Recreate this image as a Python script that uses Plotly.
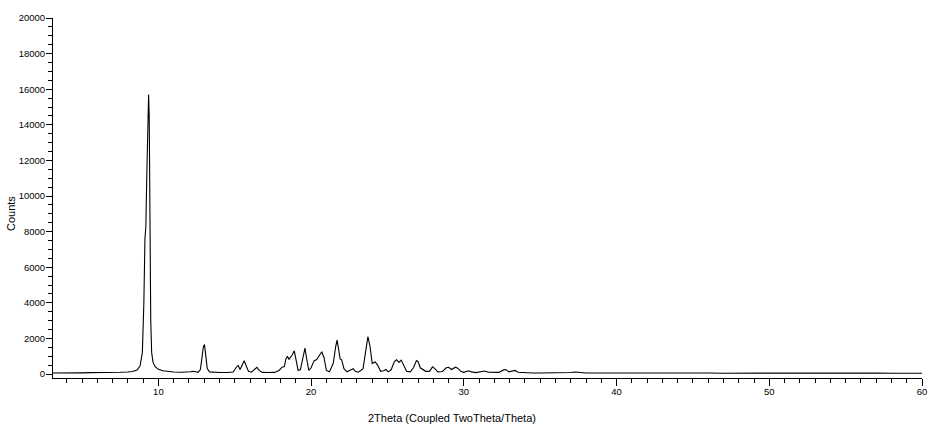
import plotly.graph_objects as go

# 2Theta (degrees) and Counts
two_theta = [
    3.1, 3.5, 4.0, 4.5, 5.0, 5.5, 6.0, 6.5, 7.0, 7.5, 8.0, 8.3, 8.6, 8.8, 8.95,
    9.05, 9.12, 9.18, 9.25, 9.32, 9.36, 9.40, 9.45, 9.50, 9.56, 9.65, 9.8, 10.0,
    10.3, 10.7, 11.0, 11.5, 11.9, 12.1, 12.3, 12.45, 12.6, 12.75, 12.85, 12.95,
    13.02, 13.1, 13.2, 13.35, 13.6, 14.0, 14.5, 14.9, 15.1, 15.22, 15.35, 15.5,
    15.62, 15.75, 15.9, 16.1, 16.3, 16.45, 16.6, 16.8, 17.2, 17.6, 17.9, 18.1,
    18.25, 18.35, 18.45, 18.55, 18.65, 18.75, 18.9, 19.0, 19.15, 19.3, 19.5,
    19.6, 19.7, 19.85, 20.0, 20.2, 20.35, 20.5, 20.7, 20.85, 21.0, 21.2, 21.45,
    21.6, 21.7, 21.8, 21.9, 22.0, 22.15, 22.35, 22.6, 22.75, 22.9, 23.1, 23.4,
    23.6, 23.72, 23.85, 24.0, 24.2, 24.35, 24.55, 24.75, 24.9, 25.05, 25.25,
    25.45, 25.6, 25.75, 25.9, 26.05, 26.25, 26.5, 26.7, 26.9, 27.0, 27.15, 27.3,
    27.5, 27.75, 27.95, 28.1, 28.3, 28.6, 28.85, 29.0, 29.2, 29.45, 29.6, 29.8,
    30.0, 30.3, 30.5, 30.8, 31.1, 31.35, 31.6, 32.0, 32.3, 32.6, 32.75, 32.95,
    33.2, 33.35, 33.55, 33.9, 34.5, 35.0, 35.5, 36.0, 36.5, 37.0, 37.3, 37.6,
    38.0, 38.5, 39.0, 39.2, 39.5, 40.0, 41.0, 42.0, 43.0, 44.0, 45.0, 46.0,
    47.0, 48.0, 49.0, 50.0, 51.0, 52.0, 53.0, 54.0, 55.0, 56.0, 57.0, 58.0,
    59.0, 60.0,
]
counts = [
    60, 55, 70, 60, 65, 75, 70, 80, 85, 95, 110, 140, 220, 450, 1200,
    4000, 7600, 8300, 11500, 15200, 15700, 14500, 8000, 3000, 1200, 650, 400, 260,
    180, 130, 110, 95, 100, 130, 150, 100, 90, 250, 900, 1550,
    1650, 1000, 300, 120, 90, 80, 80, 110, 380, 480, 250, 550,
    750, 450, 150, 100, 250, 380, 200, 90, 80, 90, 200, 380,
    420, 850, 1000, 820, 950, 1050, 1300, 900, 200, 250, 1200,
    1450, 900, 200, 350, 750, 800, 1000, 1250, 900, 200, 120, 600,
    1500, 1900, 1400, 850, 800, 300, 120, 250, 300, 150, 100, 300,
    1500, 2100, 1600, 600, 680, 500, 150, 180, 250, 120, 250,
    700, 800, 650, 780, 500, 150, 120, 350, 750, 700, 350, 280,
    150, 150, 400, 300, 120, 140, 350, 380, 250, 380, 330, 150,
    90, 180, 120, 80, 110, 170, 100, 80, 90, 230, 250, 120,
    150, 200, 100, 70, 60, 60, 55, 70, 60, 80, 110, 80,
    60, 55, 70, 90, 60, 55, 60, 50, 55, 45, 50, 55,
    45, 50, 45, 50, 40, 45, 50, 45, 40, 45, 50, 40,
    45, 40,
]

x_tickvals = [10, 20, 30, 40, 50, 60]
x_ticktext = ["10", "20", "30", "40", "50", "60"]
y_tickvals = [0, 2000, 4000, 6000, 8000, 10000, 12000, 14000, 16000, 18000, 20000]
y_ticktext = ["0", "2000", "4000", "6000", "8000", "10000", "12000", "14000",
              "16000", "18000", "20000"]

ML, MR, MT, MB = 53, 8, 18, 50
W, H = 930, 428
pw = W - ML - MR
ph = H - MT - MB

fig = go.Figure()
fig.add_trace(go.Scatter(
    x=two_theta, y=counts, mode="lines",
    line=dict(color="black", width=1.1),
    showlegend=False, hoverinfo="skip",
))

fam = "Liberation Sans, Arial, sans-serif"
font = dict(family=fam, size=9.5, color="black")

fig.update_layout(
    width=W, height=H,
    margin=dict(l=ML, r=MR, t=MT, b=MB, autoexpand=False),
    paper_bgcolor="white", plot_bgcolor="white",
    font=font,
    xaxis=dict(
        range=[3.1, 60], tickmode="array", tickvals=x_tickvals, ticktext=x_ticktext,
        ticks="outside", ticklen=7, tickwidth=1, tickcolor="black",
        showline=True, linecolor="black", linewidth=1,
        showgrid=False, zeroline=False, automargin=False,
        ticklabelstandoff=-2,
        minor=dict(dtick=1, ticks="outside", ticklen=4, tickcolor="black", showgrid=False),
        tickfont=font,
    ),
    yaxis=dict(
        range=[-225, 20000], tickmode="array", tickvals=y_tickvals, ticktext=y_ticktext,
        ticks="outside", ticklen=6, tickwidth=1, tickcolor="black",
        showline=True, linecolor="black", linewidth=1,
        showgrid=False, zeroline=False, automargin=False,
        ticklabelstandoff=-1,
        minor=dict(dtick=500, ticks="outside", ticklen=4, tickcolor="black", showgrid=False),
        tickfont=font,
    ),
    annotations=[
        dict(text="2Theta (Coupled TwoTheta/Theta)", xref="paper", yref="paper",
             x=(452 - ML) / pw, y=(H - MB - 418) / ph,
             xanchor="center", yanchor="middle",
             showarrow=False, font=dict(family=fam, size=11, color="black")),
        dict(text="Counts", xref="paper", yref="paper",
             x=(11 - ML) / pw, y=(H - MB - 214) / ph,
             xanchor="center", yanchor="middle",
             showarrow=False, textangle=-90,
             font=dict(family=fam, size=11, color="black")),
    ],
)

fig.write_html("out.html", config={"displayModeBar": False},
               post_script="document.body.style.margin='0';")
